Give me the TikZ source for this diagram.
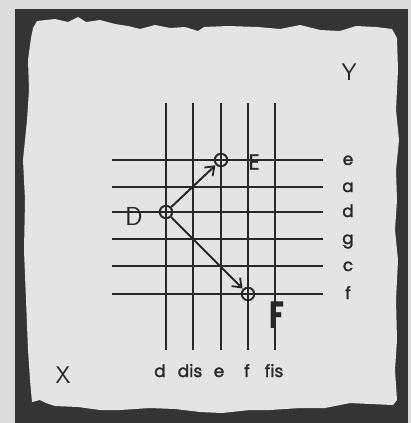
\documentclass[tikz,border=0pt]{standalone}
\usepackage{fontspec}
\setmainfont{Poppins}[UprightFeatures={FakeBold=1.6}]
\usetikzlibrary{arrows.meta,positioning}
\definecolor{paper}{RGB}{220,220,220}
\definecolor{sheet}{RGB}{228,228,228}
\definecolor{frame}{RGB}{52,52,52}
\definecolor{ink}{RGB}{40,40,40}

\begin{document}
\begin{tikzpicture}[
  x=1pt, y=-1pt,
  gridline/.style={
    ink,
    line width=1.3pt
  },
  pitch/.style={
    circle,
    draw=ink,
    line width=1.9pt,
    minimum size=12.5pt,
    inner sep=0pt
  },
  move/.style={
    -{Straight Barb[length=8pt,width=12pt,line width=1.8pt]},
    ink,
    line width=2pt,
    shorten >=0.5pt
  },
  tone/.style={
    anchor=base,
    inner sep=0pt,
    text=ink,
    font=\fontsize{17}{17}\selectfont
  },
  hand/.style={
    inner sep=0pt,
    text=ink,
    font=\sffamily\fontsize{26}{26}\selectfont
  }
]
\useasboundingbox (0,0) rectangle (411,423);

% background, dark frame and torn sheet
\fill[paper] (0,0) rectangle (411,423);
\fill[frame] (15,9) rectangle (408,423);
\fill[sheet]
  (33,28) -- (37,21) -- (55,19) -- (68,22) -- (78,17) -- (86,22)
  -- (100,20) -- (115,24) -- (128,26) -- (140,29) -- (155,25)
  -- (170,28) -- (185,27) -- (198,31) -- (204,27) -- (228,26)
  -- (258,27) -- (280,29) -- (300,25) -- (320,30) -- (340,31)
  -- (356,26) -- (376,27) -- (392,29) -- (397,38) -- (398,70)
  -- (396,110) -- (399,140) -- (396,170) -- (397,200) -- (395,230)
  -- (398,260) -- (396,300) -- (397,340) -- (395,370) -- (397,400)
  -- (393,405) -- (370,404) -- (350,403) -- (325,408) -- (300,408)
  -- (270,410) -- (250,410) -- (222,413) -- (200,412) -- (175,409)
  -- (150,408) -- (120,410) -- (100,410) -- (78,407) -- (55,406)
  -- (46,403) -- (40,400) -- (32,402) -- (30,380) -- (28,350)
  -- (26,300) -- (24,250) -- (25,200) -- (23,160) -- (27,120)
  -- (29,90) -- (28,60) -- (31,38) -- cycle;

% pitch grid
\foreach \gx in {166,193,221,248,275}
  \draw[gridline] (\gx,103) -- (\gx,350);
\foreach \gy in {160,187,212,239,266,294}
  \draw[gridline] (112,\gy) -- (323,\gy);

% the three tones
\node[pitch] (D) at (166,212) {};
\node[pitch] (E) at (221,160) {};
\node[pitch] (F) at (248,294) {};

\draw[move] (D) -- (E);
\draw[move] (D) -- (F);

\node[hand] (labD) at (134,216) {D};
\node[font=\fontsize{22}{22}\selectfont, text=ink, inner sep=0pt]
  (labE) at (254,162) {E};
\node[font=\bfseries\fontsize{38}{38}\selectfont, text=ink, inner sep=0pt,
  xscale=0.72, transform shape]
  (labF) at (277,315) {F};

% axis names
\node[hand, font=\sffamily\fontsize{24}{24}\selectfont] (axisX) at (63,375) {X};
\node[hand, font=\sffamily\fontsize{24}{24}\selectfont] (axisY) at (349,72) {Y};

% row labels
\node[tone] (rowE) at (348,165) {e};
\node[tone] (rowA) at (348,192) {a};
\node[tone] (rowD) at (348,217) {d};
\node[tone] (rowG) at (348,244) {g};
\node[tone] (rowC) at (348,271) {c};
\node[tone] (rowF) at (348,299) {f};

% column labels
\node[tone] (colD) at (160,377) {d};
\node[tone] (colDis) at (190,377) {dis};
\node[tone] (colE) at (219,377) {e};
\node[tone] (colF) at (247,377) {f};
\node[tone] (colFis) at (274,377) {fis};

\end{tikzpicture}
\end{document}
